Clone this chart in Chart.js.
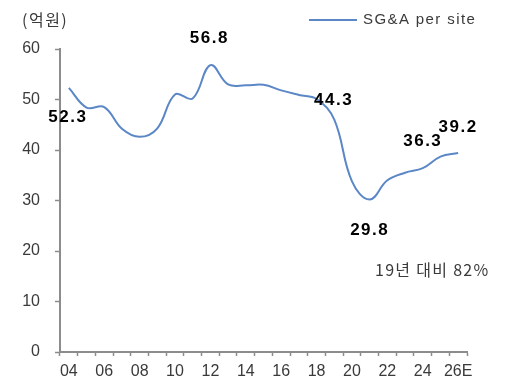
<!DOCTYPE html>
<html>
<head>
<meta charset="utf-8">
<script src="https://cdn.jsdelivr.net/npm/chart.js@4/dist/chart.umd.min.js"></script>
<style>
  html, body { margin: 0; padding: 0; background: #fff; }
  #wrap { width: 511px; height: 391px; position: relative; }
</style>
</head>
<body>
<div id="wrap"><canvas id="chart"></canvas></div>
<script>
// years 2004..2026E
const years = ["04","05","06","07","08","09","10","11","12","13","14","15","16","17","18","19","20","21","22","23","24","25","26E"];
const sgaPerSite = [52.3,48.4,48.5,44.2,42.6,44.3,51.0,50.2,56.8,53.0,52.8,52.9,51.8,50.9,50.1,46.0,33.8,30.2,34.0,35.5,36.4,38.7,39.4];
const tickLabels = {"04":"04","06":"06","08":"08","10":"10","12":"12","14":"14","16":"16","18":"18","20":"20","22":"22","24":"24","26E":"26E"};

// value call-outs
const calloutYears = ["04","12","18","21","24","26E"];
const calloutTexts = ["52.3","56.8","44.3","29.8","36.3","39.2"];
const calloutShift = [[-1,29],[-1,-27],[17,1],[0,31],[0,-27],[0,-26]];

const seriesName = "SG&A per site";
const unitLabel = "(억원)";
const note = "19년 대비 82%";

const lineColor = "#5b87c6";
const textColor = "#3a3a3a";
const axisColor = "#8c8c8c";

const extras = {
  id: "extras",
  afterDatasetsDraw(c) {
    const ctx = c.ctx, x = c.scales.x, y = c.scales.y;
    ctx.save();
    // unit
    ctx.fillStyle = textColor;
    ctx.font = "16px 'Noto Sans CJK KR'";
    ctx.letterSpacing = "1.5px";
    ctx.textAlign = "left";
    ctx.textBaseline = "middle";
    ctx.fillText(unitLabel, 22, 20);
    // legend
    ctx.strokeStyle = lineColor;
    ctx.lineWidth = 2;
    ctx.beginPath(); ctx.moveTo(309, 20); ctx.lineTo(357, 20); ctx.stroke();
    ctx.font = "15px 'Liberation Sans'";
    ctx.letterSpacing = "1.4px";
    ctx.fillText(seriesName, 363, 20);
    // note
    ctx.font = "16px 'Noto Sans CJK KR'";
    ctx.letterSpacing = "1.3px";
    ctx.fillText(note, 375, 270);
    // callouts
    ctx.fillStyle = "#000";
    ctx.font = "bold 17px 'Liberation Sans'";
    ctx.letterSpacing = "1.5px";
    ctx.textAlign = "center";
    calloutYears.forEach((yr, i) => {
      const idx = years.indexOf(yr);
      const px = x.getPixelForValue(idx);
      const py = y.getPixelForValue(sgaPerSite[idx]);
      ctx.fillText(calloutTexts[i], px + calloutShift[i][0], py + calloutShift[i][1]);
    });
    ctx.restore();
  }
};

new Chart(document.getElementById("chart"), {
  type: "line",
  data: {
    labels: years,
    datasets: [{
      label: seriesName,
      data: sgaPerSite,
      borderColor: lineColor,
      borderWidth: 2,
      pointRadius: 0,
      tension: 0.4,
      fill: false
    }]
  },
  options: {
    responsive: true,
    maintainAspectRatio: false,
    animation: false,
    layout: { padding: { top: 49, right: 44, left: 0, bottom: 0 } },
    plugins: { legend: { display: false }, tooltip: { enabled: false } },
    scales: {
      x: {
        offset: true,
        grid: { offset: true, drawOnChartArea: false, color: axisColor, tickLength: 4, tickWidth: 1.5 },
        border: { color: axisColor, width: 2 },
        ticks: {
          autoSkip: false, maxRotation: 0, padding: 6, color: textColor,
          font: { family: "'Liberation Sans'", size: 16 },
          callback: (v, i) => tickLabels[years[i]] || ""
        },
        afterFit: s => { s.height = 39; }
      },
      y: {
        min: 0, max: 60,
        ticks: { stepSize: 10, padding: 15, color: textColor, font: { family: "'Liberation Sans'", size: 16 } },
        grid: { drawOnChartArea: false, color: axisColor, tickLength: 5, tickWidth: 1.5 },
        border: { color: axisColor, width: 2 },
        afterFit: s => { s.width = 60; }
      }
    }
  },
  plugins: [extras]
});
</script>
</body>
</html>
